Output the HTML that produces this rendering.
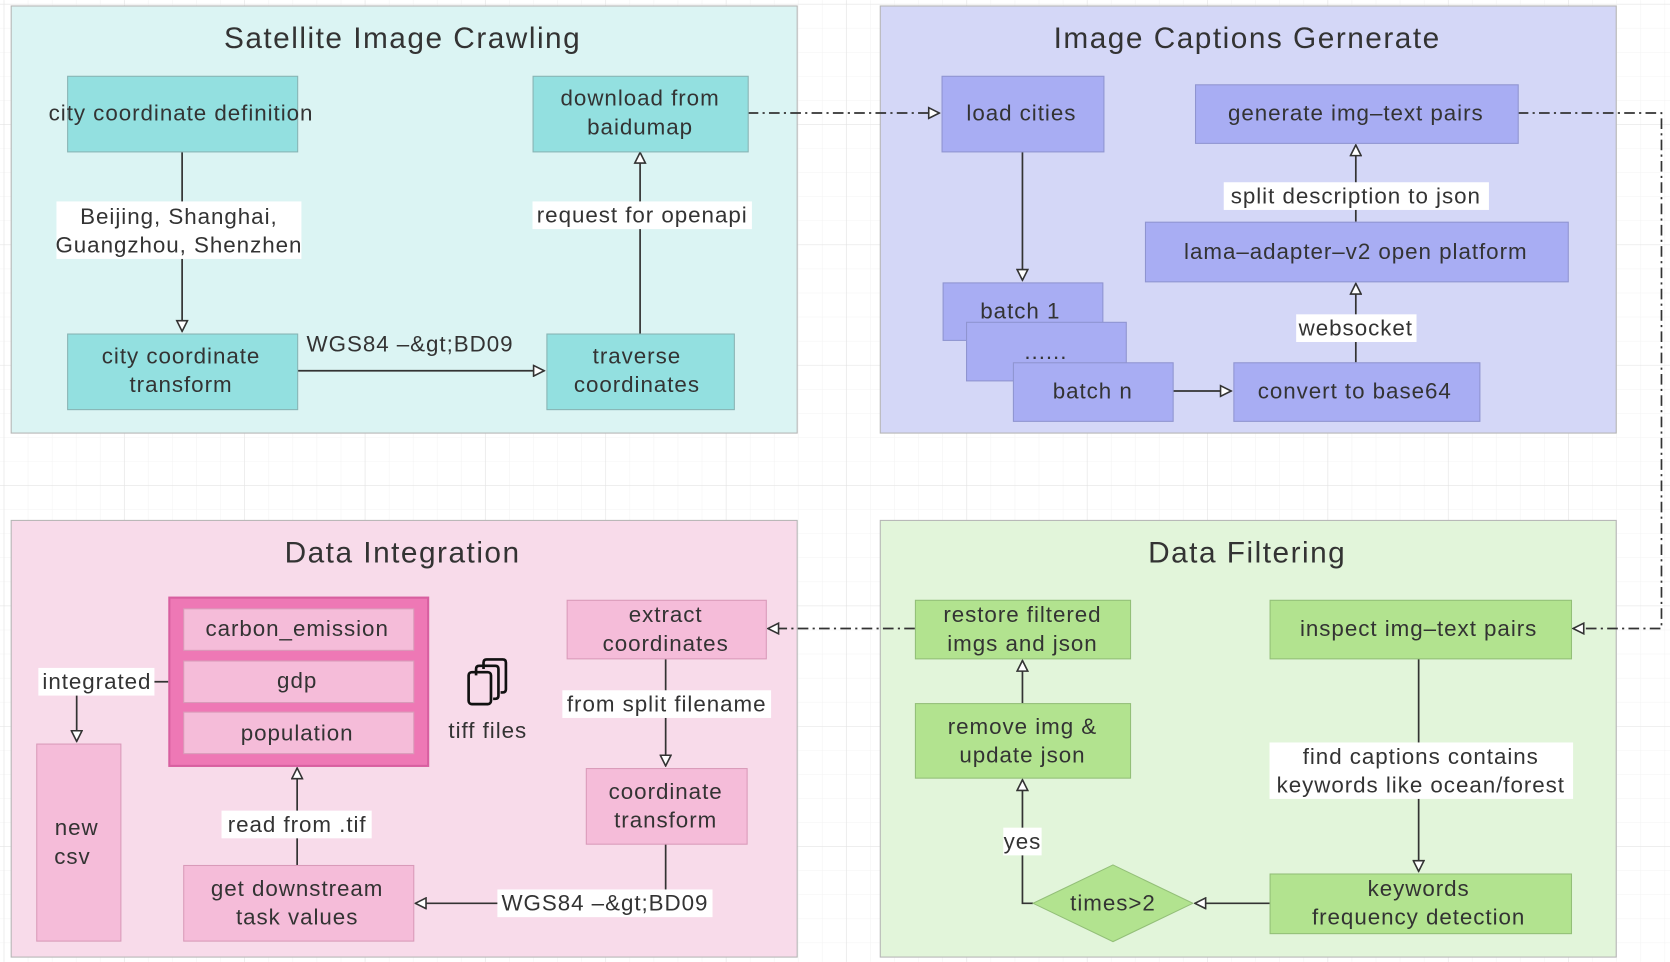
<!DOCTYPE html>
<html><head><meta charset="utf-8"><style>
html,body{margin:0;padding:0;background:#fff;}
svg{display:block;}
text{font-family:"Liberation Sans",sans-serif;fill:#333;}
.t{font-size:21px;letter-spacing:0.9px;}
.h{font-size:28px;letter-spacing:1.4px;}
</style></head><body>
<svg width="1670" height="962" viewBox="0 0 1568 903" xmlns="http://www.w3.org/2000/svg">
<defs>
<pattern id="gmin" width="22.6" height="22.6" patternUnits="userSpaceOnUse" x="4" y="4">
<path d="M22.6 0V22.6M0 22.6H22.6" stroke="#f3f3f3" stroke-width="1" fill="none"/>
</pattern>
<pattern id="gmaj" width="113" height="113" patternUnits="userSpaceOnUse" x="4" y="4">
<path d="M113 0V113M0 113H113" stroke="#e2e2e2" stroke-width="1" fill="none"/>
</pattern>
<marker id="ah" viewBox="0 0 12 12" refX="11" refY="6" markerWidth="12" markerHeight="12" markerUnits="userSpaceOnUse" orient="auto">
<path d="M1 1L11 6L1 11Z" fill="#fff" stroke="#333" stroke-width="1.5"/>
</marker>
</defs>
<rect width="1568" height="903" fill="#fff"/>
<rect width="1568" height="903" fill="url(#gmin)"/>
<rect width="1568" height="903" fill="url(#gmaj)"/>

<rect x="10.5" y="5.5" width="738" height="401" fill="#dbf4f3" stroke="#b5b5b5"/>
<rect x="826.5" y="5.5" width="691" height="401" fill="#d4d7f7" stroke="#b5b5b5"/>
<rect x="10.5" y="488.5" width="738" height="410" fill="#f8dbea" stroke="#b5b5b5"/>
<rect x="826.5" y="488.5" width="691" height="410" fill="#e2f5da" stroke="#b5b5b5"/>
<g class="h" text-anchor="middle">
<text x="378" y="45">Satellite Image Crawling</text>
<text x="1171" y="45">Image Captions Gernerate</text>
<text x="378" y="528">Data Integration</text>
<text x="1171" y="528">Data Filtering</text>
</g>

<g stroke="#333" stroke-width="1.6" fill="none">
<path d="M171 142V311" marker-end="url(#ah)"/>
<path d="M279 348H511" marker-end="url(#ah)"/>
<path d="M601 313V143" marker-end="url(#ah)"/>
<path d="M702 106H882" stroke-dasharray="10 4 2 4" marker-end="url(#ah)"/>
<path d="M960 142V263" marker-end="url(#ah)"/>
<path d="M1101 367H1156" marker-end="url(#ah)"/>
<path d="M1273 340V266" marker-end="url(#ah)"/>
<path d="M1273 208V136" marker-end="url(#ah)"/>
<path d="M1425 106H1560V590H1477" stroke-dasharray="10 4 2 4" marker-end="url(#ah)"/>
<path d="M1332 618V818" marker-end="url(#ah)"/>
<path d="M1192 848H1122" marker-end="url(#ah)"/>
<path d="M970 848H960V732" marker-end="url(#ah)"/>
<path d="M960 660V620" marker-end="url(#ah)"/>
<path d="M859 590H721" stroke-dasharray="10 4 2 4" marker-end="url(#ah)"/>
<path d="M625 618V719" marker-end="url(#ah)"/>
<path d="M625 792V848H390" marker-end="url(#ah)"/>
<path d="M279 812V721" marker-end="url(#ah)"/>
<path d="M158 640H72V696" marker-end="url(#ah)"/>
</g>

<g fill="#fff">
<rect x="53" y="189" width="230" height="54"/>
<rect x="500" y="189" width="206" height="26"/>
<rect x="1149" y="171" width="249" height="26"/>
<rect x="1217" y="295" width="113" height="26"/>
<rect x="1192" y="697" width="285" height="53"/>
<rect x="942" y="777" width="36" height="26"/>
<rect x="528" y="648" width="196" height="26"/>
<rect x="467" y="835" width="202" height="26"/>
<rect x="208" y="761" width="141" height="26"/>
<rect x="36" y="627" width="109" height="26"/>
</g>
<g class="t" text-anchor="middle">
<text x="168" y="210">Beijing, Shanghai,</text>
<text x="168" y="237">Guangzhou, Shenzhen</text>
<text x="603" y="209">request for openapi</text>
<text x="385" y="330">WGS84 –&amp;gt;BD09</text>
<text x="1273" y="191">split description to json</text>
<text x="1273" y="315">websocket</text>
<text x="1334" y="717">find captions contains</text>
<text x="1334" y="744">keywords like ocean/forest</text>
<text x="960" y="797">yes</text>
<text x="626" y="668">from split filename</text>
<text x="568" y="855">WGS84 –&amp;gt;BD09</text>
<text x="279" y="781">read from .tif</text>
<text x="91" y="647">integrated</text>
</g>

<g fill="#93e0e0" stroke="#88b3b3">
<rect x="63.5" y="71.5" width="216" height="71"/>
<rect x="500.5" y="71.5" width="202" height="71"/>
<rect x="63.5" y="313.5" width="216" height="71"/>
<rect x="513.5" y="313.5" width="176" height="71"/>
</g>
<g fill="#a8adf3" stroke="#8f94d0">
<rect x="884.5" y="71.5" width="152" height="71"/>
<rect x="1122.5" y="79.5" width="303" height="55"/>
<rect x="1075.5" y="208.5" width="397" height="56"/>
<rect x="885.5" y="265.5" width="150" height="54"/>
<rect x="907.5" y="302.5" width="150" height="55"/>
<rect x="951.5" y="340.5" width="150" height="55"/>
<rect x="1158.5" y="340.5" width="231" height="55"/>
</g>
<g fill="#b2e38f" stroke="#93bf78">
<rect x="1192.5" y="563.5" width="283" height="55"/>
<rect x="1192.5" y="820.5" width="283" height="56"/>
<rect x="859.5" y="660.5" width="202" height="70"/>
<rect x="859.5" y="563.5" width="202" height="55"/>
<path d="M1045 812L1120 848L1045 884L970 848Z"/>
</g>
<rect x="159" y="561" width="243" height="158" fill="#ee78b5" stroke="#d85fa0" stroke-width="2"/>
<g fill="#f5bcd9" stroke="#d99ab9">
<rect x="532.5" y="563.5" width="187" height="55"/>
<rect x="550.5" y="721.5" width="151" height="71"/>
<rect x="172.5" y="812.5" width="216" height="71"/>
<rect x="172.5" y="571.5" width="216" height="39"/>
<rect x="172.5" y="620.5" width="216" height="39"/>
<rect x="172.5" y="668.5" width="216" height="39"/>
<rect x="34.5" y="698.5" width="79" height="185"/>
</g>
<g fill="none" stroke="#111" stroke-width="2.5" stroke-linejoin="round">
<path d="M454 628V622Q454 619 457 619H472Q475 619 475 622V647Q475 650 472 650H470"/>
<path d="M447 634V628Q447 625 450 625H465Q468 625 468 628V653Q468 656 465 656H463"/>
<rect x="440" y="631" width="21" height="30" rx="3"/>
</g>

<g class="t" text-anchor="middle">
<text x="170" y="113">city coordinate definition</text>
<text x="601" y="99">download from</text>
<text x="601" y="126">baidumap</text>
<text x="170" y="341">city coordinate</text>
<text x="170" y="368">transform</text>
<text x="598" y="341">traverse</text>
<text x="598" y="368">coordinates</text>
<text x="959" y="113">load cities</text>
<text x="1273" y="113">generate img–text pairs</text>
<text x="1273" y="243">lama–adapter–v2 open platform</text>
<text x="958" y="299">batch 1</text>
<text x="982" y="337">......</text>
<text x="1026" y="374">batch n</text>
<text x="1272" y="374">convert to base64</text>
<text x="1332" y="597">inspect img–text pairs</text>
<text x="1332" y="841">keywords</text>
<text x="1332" y="868">frequency detection</text>
<text x="1045" y="855">times&gt;2</text>
<text x="960" y="689">remove img &amp;</text>
<text x="960" y="716">update json</text>
<text x="960" y="584">restore filtered</text>
<text x="960" y="611">imgs and json</text>
<text x="625" y="584">extract</text>
<text x="625" y="611">coordinates</text>
<text x="625" y="750">coordinate</text>
<text x="625" y="777">transform</text>
<text x="279" y="841">get downstream</text>
<text x="279" y="868">task values</text>
<text x="279" y="597">carbon_emission</text>
<text x="279" y="646">gdp</text>
<text x="279" y="695">population</text>
<text x="72" y="784">new</text>
<text x="68" y="811">csv</text>
<text x="458" y="693">tiff files</text>
</g>
</svg>
</body></html>
